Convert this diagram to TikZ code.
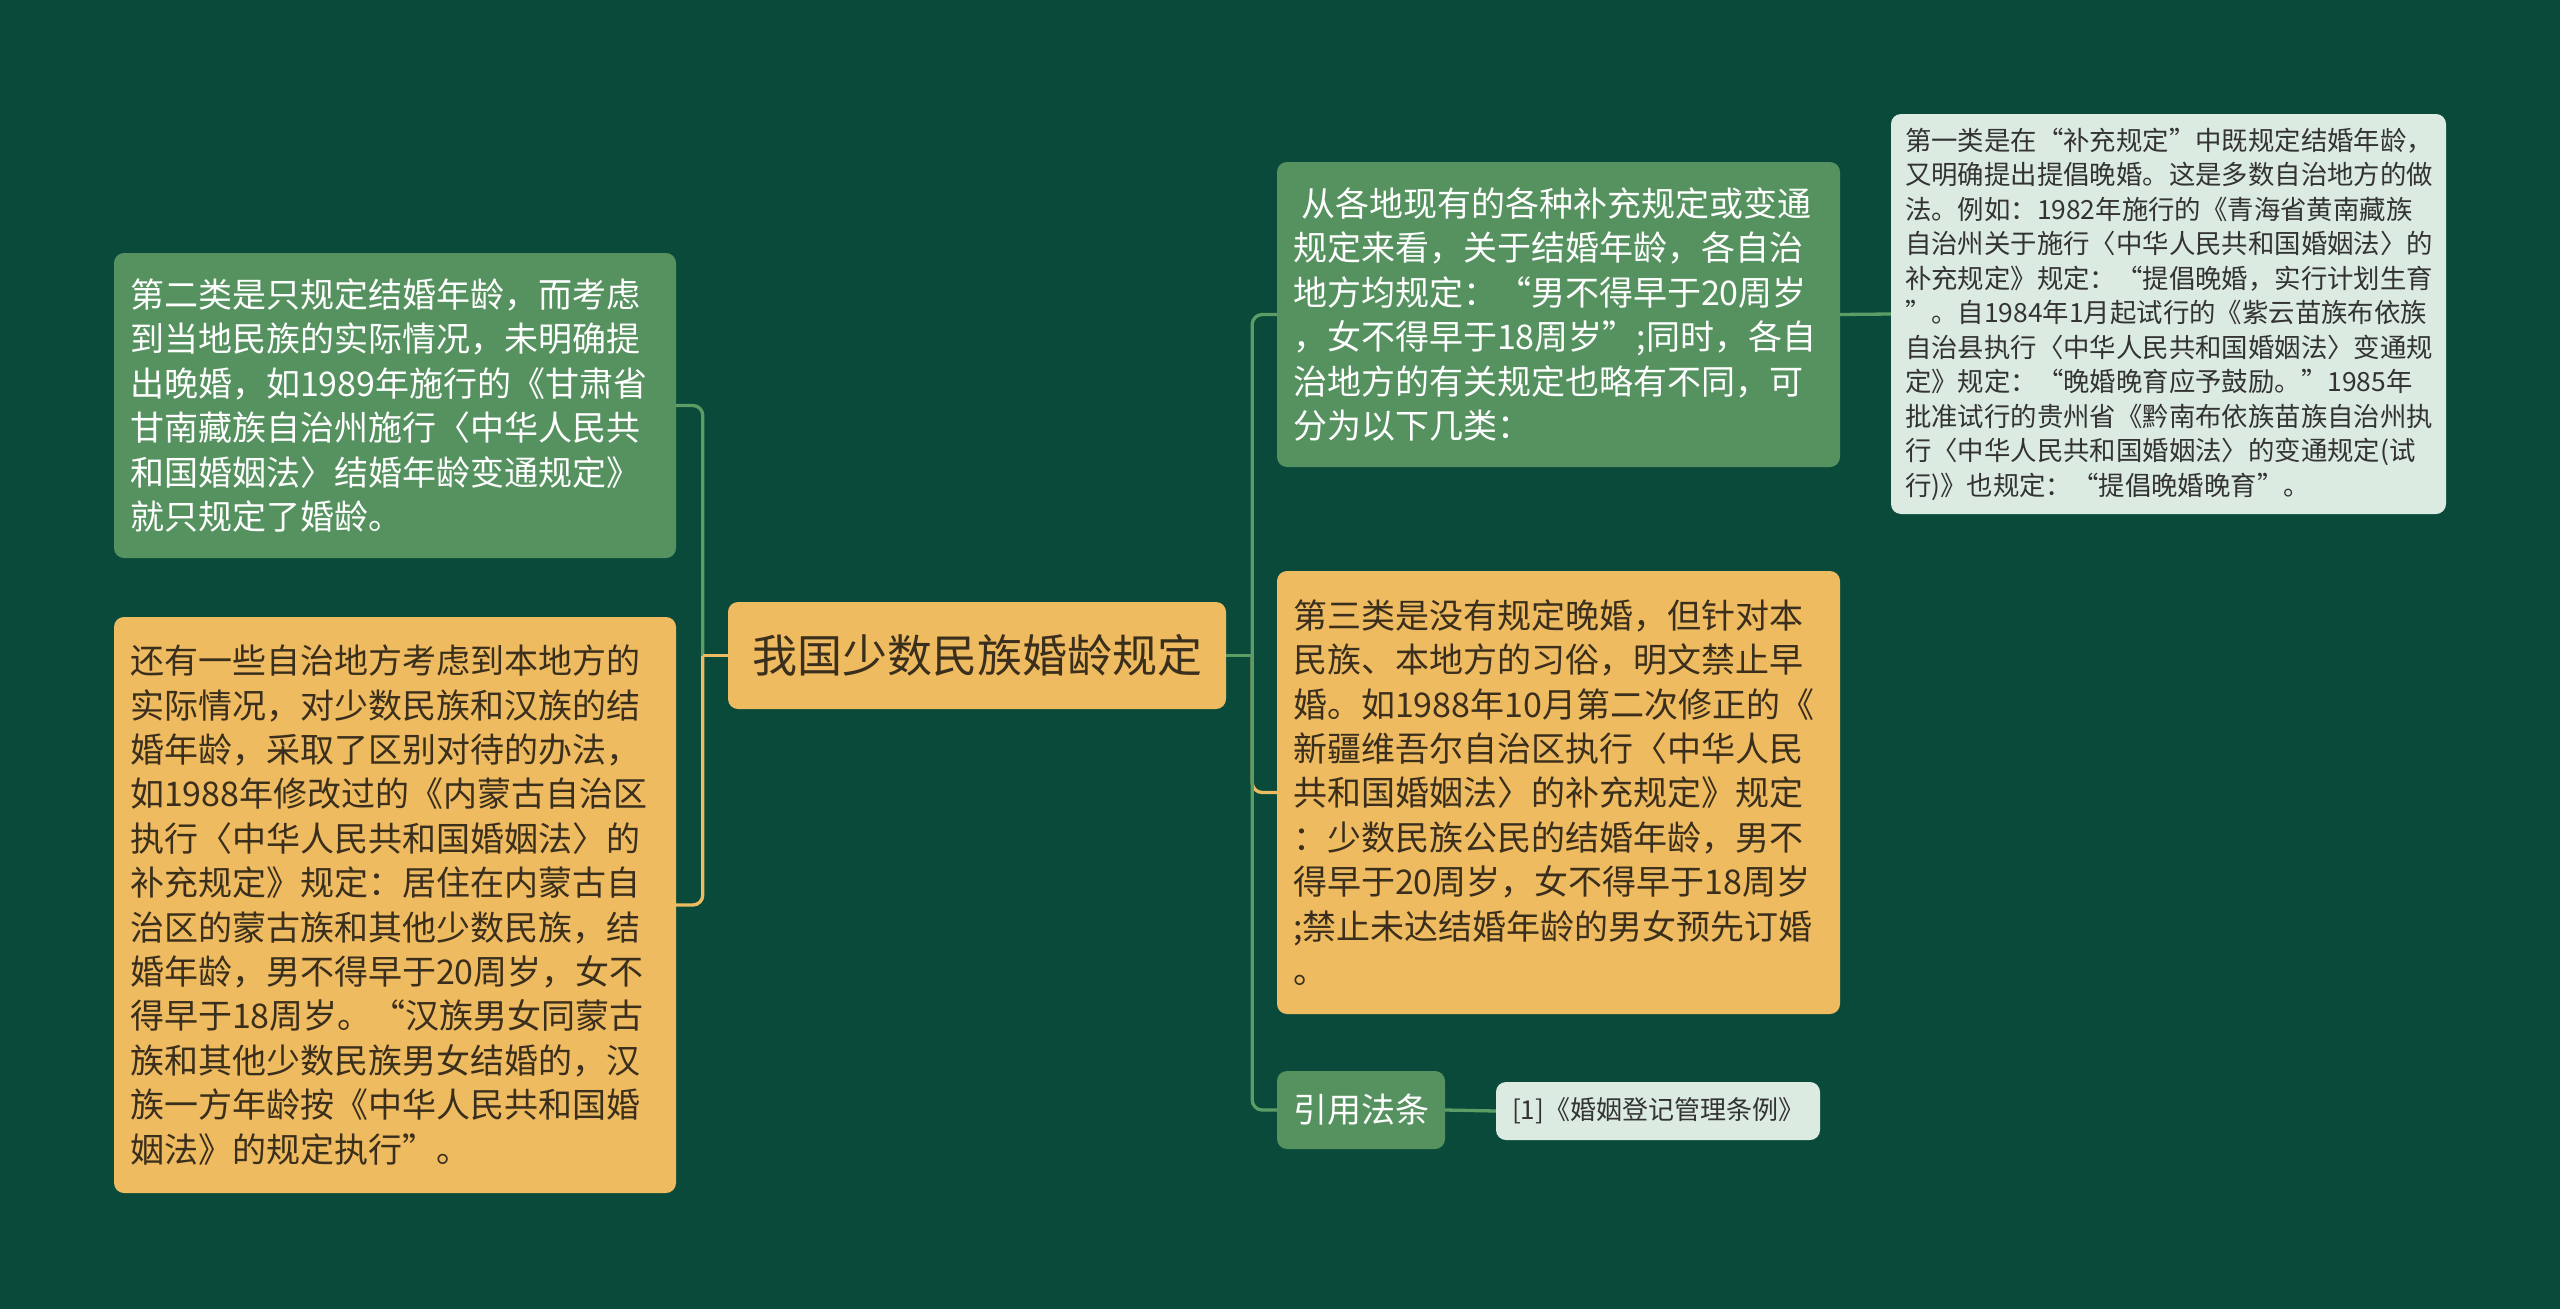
\documentclass[tikz,border=0pt]{standalone}
\usepackage{fontspec}
\newfontfamily\cjk{Noto Sans CJK SC}
\definecolor{bgdark}{HTML}{0A4A3A}
\definecolor{boxgreen}{HTML}{56925F}
\definecolor{boxorange}{HTML}{EFBB61}
\definecolor{boxlight}{HTML}{DCEBE1}
\definecolor{textdark}{HTML}{3A2E1C}
\definecolor{textgray}{HTML}{333333}
\definecolor{linkgreen}{HTML}{5C9D66}
\begin{document}
\begin{tikzpicture}[x=1pt,y=-1pt,
  box/.style={rounded corners=10pt,inner xsep=16pt,inner ysep=0pt,align=left},
  greenbox/.style={box,fill=boxgreen,text=white},
  orangebox/.style={box,fill=boxorange,text=textdark},
  lightbox/.style={box,fill=boxlight,text=textgray},
  big/.style={font=\cjk\fontsize{34}{44.4}\selectfont},
  small/.style={font=\cjk\fontsize{26.4}{34.5}\selectfont},
  greenline/.style={draw=linkgreen,line width=3.3pt,rounded corners=10pt},
  orangeline/.style={draw=boxorange,line width=3.3pt,rounded corners=10pt}]

  % 背景
  \fill[bgdark] (0,0) rectangle (2560,1309);

  % 中心主题
  \node[orangebox,align=center,minimum width=498,minimum height=107,
    font=\cjk\fontsize{45}{54}\selectfont] (center) at (977,655.5) {我国少数民族婚龄规定};

  % 左侧
  \node[greenbox,big,minimum width=562,minimum height=305,text width=530] (second) at (395,405.5) {%
第二类是只规定结婚年龄，而考虑\\
到当地民族的实际情况，未明确提\\
出晚婚，如1989年施行的《甘肃省\\
甘南藏族自治州施行〈中华人民共\\
和国婚姻法〉结婚年龄变通规定》\\
就只规定了婚龄。};
  \node[orangebox,big,minimum width=562,minimum height=576,text width=530] (other) at (395,905) {%
还有一些自治地方考虑到本地方的\\
实际情况，对少数民族和汉族的结\\
婚年龄，采取了区别对待的办法，\\
如1988年修改过的《内蒙古自治区\\
执行〈中华人民共和国婚姻法〉的\\
补充规定》规定：居住在内蒙古自\\
治区的蒙古族和其他少数民族，结\\
婚年龄，男不得早于20周岁，女不\\
得早于18周岁。“汉族男女同蒙古\\
族和其他少数民族男女结婚的，汉\\
族一方年龄按《中华人民共和国婚\\
姻法》的规定执行”。};

  % 右侧
  \node[greenbox,big,minimum width=563,minimum height=305,text width=531] (overview) at (1558.5,314.5) {%
\hspace*{8pt}从各地现有的各种补充规定或变通\\
规定来看，关于结婚年龄，各自治\\
地方均规定：“男不得早于20周岁\\
，女不得早于18周岁”;同时，各自\\
治地方的有关规定也略有不同，可\\
分为以下几类：};
  \node[orangebox,big,minimum width=563,minimum height=443,text width=531] (third) at (1558.5,792.5) {%
第三类是没有规定晚婚，但针对本\\
民族、本地方的习俗，明文禁止早\\
婚。如1988年10月第二次修正的《\\
新疆维吾尔自治区执行〈中华人民\\
共和国婚姻法〉的补充规定》规定\\
：少数民族公民的结婚年龄，男不\\
得早于20周岁，女不得早于18周岁\\
;禁止未达结婚年龄的男女预先订婚\\
。};
  \node[greenbox,big,align=center,minimum width=168,minimum height=78] (cite) at (1361,1110) {引用法条};
  \node[lightbox,align=center,minimum width=324,minimum height=58,
    font=\cjk\fontsize{26}{32}\selectfont] (law) at (1658,1111) {[1]《婚姻登记管理条例》};
  \node[lightbox,small,minimum width=555,minimum height=400,text width=527,inner xsep=14pt] (first) at (2168.5,314) {%
第一类是在“补充规定”中既规定结婚年龄，\\
又明确提出提倡晚婚。这是多数自治地方的做\\
法。例如：1982年施行的《青海省黄南藏族\\
自治州关于施行〈中华人民共和国婚姻法〉的\\
补充规定》规定：“提倡晚婚，实行计划生育\\
”。自1984年1月起试行的《紫云苗族布依族\\
自治县执行〈中华人民共和国婚姻法〉变通规\\
定》规定：“晚婚晚育应予鼓励。”1985年\\
批准试行的贵州省《黔南布依族苗族自治州执\\
行〈中华人民共和国婚姻法〉的变通规定(试\\
行)》也规定：“提倡晚婚晚育”。};

  % 连线
  \path (center.west) ++(-25,0) coordinate (jl);
  \path (center.east) ++(26,0) coordinate (jr);
  \draw[greenline] (jl) |- (second.east);
  \draw[orangeline] (jl) |- (other.east);
  \draw[orangeline] (center.west) -- (jl);

  \draw[orangeline] (jr) |- (third.west);
  \draw[greenline] (jr) |- (overview.west);
  \draw[greenline] (jr) |- (cite.west);
  \draw[greenline] (center.east) -- (jr);

  \draw[greenline] (overview.east) -- (first.west);
  \draw[greenline] (cite.east) -- (law.west);
\end{tikzpicture}
\end{document}
